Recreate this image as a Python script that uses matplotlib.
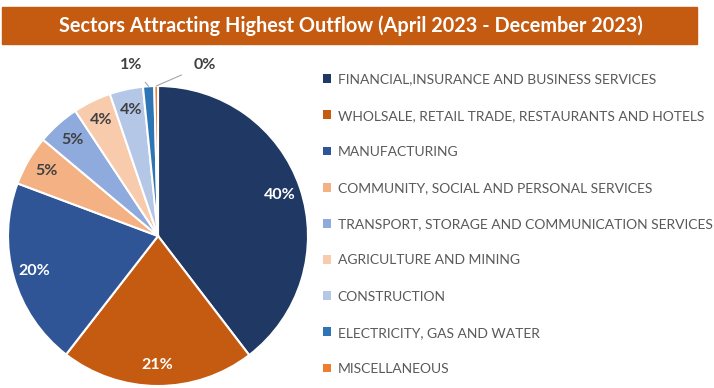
import matplotlib.pyplot as plt
import matplotlib.patches as mpatches
import numpy as np

sectors = [
    "FINANCIAL,INSURANCE AND BUSINESS SERVICES",
    "WHOLSALE, RETAIL TRADE, RESTAURANTS AND HOTELS",
    "MANUFACTURING",
    "COMMUNITY, SOCIAL AND PERSONAL SERVICES",
    "TRANSPORT, STORAGE AND COMMUNICATION SERVICES",
    "AGRICULTURE AND MINING",
    "CONSTRUCTION",
    "ELECTRICITY, GAS AND WATER",
    "MISCELLANEOUS",
]
shares = [39.6, 20.9, 20.2, 5.4, 4.6, 4.1, 3.6, 1.2, 0.4]
colors = ["#203864", "#C55A11", "#2F5597", "#F4B183", "#8FAADC",
          "#F8CBAD", "#B4C7E7", "#2E75B6", "#ED7D31"]
label_colors = ["white", "white", "white", "#404040", "#404040",
                "#404040", "#404040", "#404040", "#404040"]

fig = plt.figure(figsize=(7.14, 3.88), dpi=100)
plt.rcParams['font.family'] = ['Lato', 'DejaVu Sans']

# title banner
fig.patches.append(mpatches.Rectangle((2 / 714, 1 - 44 / 388), 695 / 714, 37 / 388,
                                      transform=fig.transFigure, color="#C55A11"))
fig.text(351 / 714, 1 - 26 / 388, "Sectors Attracting Highest Outflow (April 2023 - December 2023)",
         color="white", fontsize=14.3, fontweight="bold", ha="center", va="center")

ax = fig.add_axes([8 / 714, 2 / 388, 300 / 714, 300 / 388])
wedges, _ = ax.pie(shares, colors=colors, startangle=90, counterclock=False,
                   wedgeprops=dict(edgecolor="white", linewidth=1.5))
ax.set_xlim(-1, 1)
ax.set_ylim(-1, 1)
ax.set_aspect("equal")

# small slices get labels outside with leader lines
outside = {7: (-0.18, 1.14), 8: (0.31, 1.14)}
for i, w in enumerate(wedges):
    ang = np.deg2rad((w.theta1 + w.theta2) / 2)
    txt = f"{round(shares[i]):.0f}%"
    if i in outside:
        tx, ty = outside[i]
        ax.annotate(txt, xy=(np.cos(ang) * 1.0, np.sin(ang) * 1.0), xytext=(tx, ty),
                    fontsize=11.5, fontweight="bold", color="#404040",
                    ha="center", va="center", annotation_clip=False,
                    arrowprops=dict(arrowstyle="-", color="#A6A6A6", lw=0.8,
                                    shrinkA=7, shrinkB=0))
    else:
        ax.text(np.cos(ang) * 0.86, np.sin(ang) * 0.86, txt, fontsize=11.5,
                fontweight="bold", color=label_colors[i], ha="center", va="center")

leg = fig.legend(wedges, sectors, loc="upper left", bbox_to_anchor=(317 / 714, 1 - 68 / 388),
                 frameon=False, labelcolor="#595959", handlelength=0.6,
                 handleheight=0.6, handletextpad=0.5, labelspacing=1.74, borderaxespad=0,
                 prop={"size": 10})
for h in leg.legend_handles:
    h.set_edgecolor("none")

fig.savefig("out.png", dpi=100)
